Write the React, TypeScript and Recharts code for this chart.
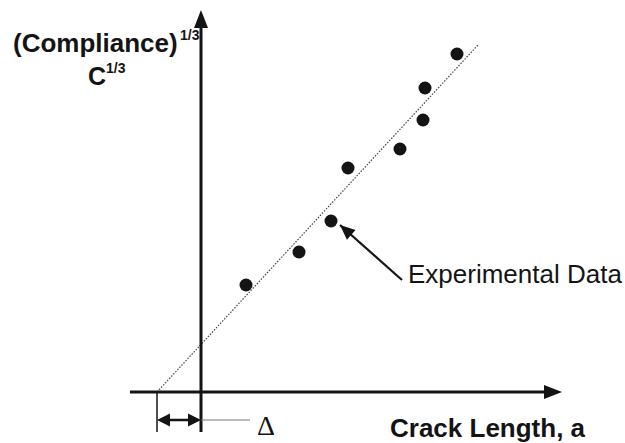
import { ScatterChart, Scatter, XAxis, YAxis, ReferenceLine } from "recharts";

// crack length a (x) and C^(1/3) (y), arbitrary units, origin where the axes cross
const crackLength = [4.5, 9.8, 13.0, 14.7, 19.9, 22.2, 22.4, 25.6];
const compliance = [10.7, 14.0, 17.1, 22.4, 24.3, 27.2, 30.4, 33.8];

// dotted least-squares line, hits the a-axis at -delta
const fitStart = { x: -4.4, y: 0 };
const fitEnd = { x: 27.7, y: 34.7 };

const yAxisRange = [-4.0, 38.2];
const xAxisRange = [-7.1, 36.1];
const deltaLevel = -2.8;
const deltaLeaderEnd = 4.9;

// pointer to the data
const pointerTail = { x: 20.1, y: 11.2 };
const pointerTip = { x: 13.9, y: 16.7 };

const W = 625;
const H = 443;
const xDomain = [-20.1, 42.4];
const yDomain = [-5.1, 39.2];
const kx = W / (xDomain[1] - xDomain[0]);
const ky = H / (yDomain[1] - yDomain[0]);

const INK = "#141414";

const data = crackLength.map((a, i) => ({ x: a, y: compliance[i] }));

function heading(from: { x: number; y: number }, to: { x: number; y: number }) {
  return (Math.atan2(-(to.y - from.y) * ky, (to.x - from.x) * kx) * 180) / Math.PI;
}

const axisHeads = [
  { x: 0, y: yAxisRange[1], angle: heading({ x: 0, y: 0 }, { x: 0, y: 1 }) },
  { x: xAxisRange[1], y: 0, angle: heading({ x: 0, y: 0 }, { x: 1, y: 0 }) },
];
const deltaHeads = [
  { x: fitStart.x, y: deltaLevel, angle: 180 },
  { x: 0, y: deltaLevel, angle: 0 },
];
const pointerHead = [{ ...pointerTip, angle: heading(pointerTail, pointerTip) }];

function arrowHead(len: number, half: number) {
  return (p: any) => {
    const angle = p.payload?.angle ?? p.angle ?? 0;
    return (
      <polygon
        points={`0,0 ${-len},${-half} ${-len},${half}`}
        fill={INK}
        transform={`translate(${p.cx},${p.cy}) rotate(${angle})`}
      />
    );
  };
}

const dot = (p: any) => <circle cx={p.cx} cy={p.cy} r={6.5} fill={INK} />;

export default function App() {
  const font = "'Liberation Sans', Arial, sans-serif";
  return (
    <div style={{ position: "absolute", left: 0, top: 0, width: W, height: H, background: "#fff" }}>
      <ScatterChart width={W} height={H} margin={{ top: 0, right: 0, bottom: 0, left: 0 }}>
        <XAxis type="number" dataKey="x" domain={xDomain} allowDataOverflow hide />
        <YAxis type="number" dataKey="y" domain={yDomain} allowDataOverflow hide />

        <ReferenceLine segment={[fitStart, fitEnd]} stroke="#444" strokeWidth={1.2} strokeDasharray="1.5 1.5" />
        <ReferenceLine segment={[{ x: 0, y: yAxisRange[0] }, { x: 0, y: yAxisRange[1] - 1 }]} stroke={INK} strokeWidth={3} />
        <ReferenceLine segment={[{ x: xAxisRange[0], y: 0 }, { x: xAxisRange[1] - 1, y: 0 }]} stroke={INK} strokeWidth={3} />
        <ReferenceLine segment={[{ x: fitStart.x, y: 0 }, { x: fitStart.x, y: yAxisRange[0] }]} stroke={INK} strokeWidth={1.5} />
        <ReferenceLine segment={[{ x: fitStart.x + 0.5, y: deltaLevel }, { x: -0.5, y: deltaLevel }]} stroke={INK} strokeWidth={2.5} />
        <ReferenceLine segment={[{ x: 0, y: deltaLevel }, { x: deltaLeaderEnd, y: deltaLevel }]} stroke="#777" strokeWidth={1} />
        <ReferenceLine segment={[pointerTail, pointerTip]} stroke={INK} strokeWidth={2.2} />

        <Scatter data={data} shape={dot} isAnimationActive={false} />
        <Scatter data={axisHeads} shape={arrowHead(18, 7)} isAnimationActive={false} />
        <Scatter data={deltaHeads} shape={arrowHead(13, 6.5)} isAnimationActive={false} />
        <Scatter data={pointerHead} shape={arrowHead(15, 6.5)} isAnimationActive={false} />
      </ScatterChart>

      <svg width={W} height={H} style={{ position: "absolute", left: 0, top: 0, pointerEvents: "none" }}>
        <text x={13} y={52} fontFamily={font} fontWeight="bold" fontSize={26} fill={INK}>(Compliance)</text>
        <text x={180} y={40} fontFamily={font} fontWeight="bold" fontSize={14} fill={INK}>1/3</text>
        <text x={88} y={85} fontFamily={font} fontWeight="bold" fontSize={25} fill={INK}>C</text>
        <text x={106} y={73} fontFamily={font} fontWeight="bold" fontSize={14} fill={INK}>1/3</text>
        <text x={408} y={283} fontFamily={font} fontSize={26} fill={INK}>Experimental Data</text>
        <text x={390} y={437} fontFamily={font} fontWeight="bold" fontSize={26} fill={INK}>Crack Length, a</text>
        <text x={257} y={435} fontFamily="'Liberation Serif', serif" fontSize={28} fill={INK}>Δ</text>
      </svg>
    </div>
  );
}
